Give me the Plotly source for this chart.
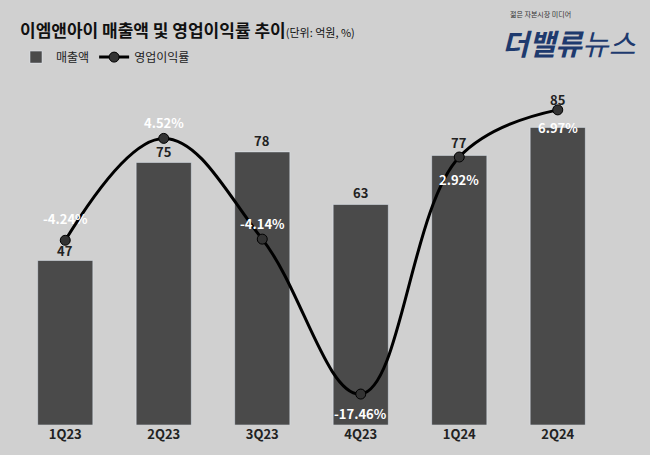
import plotly.graph_objects as go

categories = ["1Q23", "2Q23", "3Q23", "4Q23", "1Q24", "2Q24"]
sales = [47, 75, 78, 63, 77, 85]
margin = [-4.24, 4.52, -4.14, -17.46, 2.92, 6.97]

# label offsets in pixels (style only)
sales_shift = [10, 11, 11, 12, 13, 28]
margin_shift = [22, 16, 16, -19, -22, -18]

W, H = 650, 455
pl, pr, pt, pb = 16, 43, 70, 27
pw, ph = W - pl - pr, H - pt - pb

def px(x):
    return (x - pl) / pw

def py(y):
    return 1 - (y - pt) / ph

fig = go.Figure()
fig.add_trace(go.Bar(x=categories, y=sales, name="매출액", marker_color="#4a4a4a", width=0.56))
fig.add_trace(go.Scatter(x=categories, y=margin, name="영업이익률", yaxis="y2",
                         mode="lines+markers", line=dict(color="black", width=3, shape="spline", smoothing=1.1),
                         marker=dict(size=10, color="#333", line=dict(color="black", width=1)),
                         cliponaxis=False))

anns = [
    dict(text="<b>이엠앤아이 매출액 및 영업이익률 추이</b><span style='font-size:11px'>(단위: 억원, %)</span>",
         x=px(18), y=py(29), xref="paper", yref="paper", showarrow=False, xanchor="left", yanchor="middle",
         font=dict(size=17, color="#111")),
    dict(text="젊은 자본시장 미디어", x=px(508), y=py(14), xref="paper", yref="paper", showarrow=False,
         xanchor="left", yanchor="middle", font=dict(size=7, color="#333")),
    dict(text="<b><i>더밸류</i></b><i>뉴스</i>", x=px(500), y=py(42), xref="paper", yref="paper",
         showarrow=False, xanchor="left", yanchor="middle", font=dict(size=29, color="#1e3a6e")),
]
for c, v, s in zip(categories, sales, sales_shift):
    anns.append(dict(text=f"<b>{v}</b>", x=c, y=v, xref="x", yref="y", showarrow=False,
                     yanchor="middle", yshift=s, font=dict(size=13, color="#222")))
for c, v, s in zip(categories, margin, margin_shift):
    anns.append(dict(text=f"<b>{v:.2f}%</b>", x=c, y=v, xref="x", yref="y2", showarrow=False,
                     yanchor="middle", yshift=s, font=dict(size=13, color="white")))

fig.update_layout(
    width=W, height=H, paper_bgcolor="#d0d0d0", plot_bgcolor="#d0d0d0",
    margin=dict(l=pl, r=pr, t=pt, b=pb), bargap=0.44,
    font=dict(family="Noto Sans CJK KR", color="#222"),
    xaxis=dict(showgrid=False, showline=False, tickfont=dict(size=13, color="#222"), ticks="",
               tickprefix="<b>", ticksuffix="</b>"),
    yaxis=dict(range=[0, 101.4], visible=False),
    yaxis2=dict(range=[-20.12, 10.4], overlaying="y", visible=False),
    showlegend=True,
    legend=dict(orientation="h", x=px(16), y=py(57), xanchor="left", yanchor="middle",
                font=dict(size=12), bgcolor="rgba(0,0,0,0)"),
    annotations=anns,
)
fig.write_html("out.html", config={"displayModeBar": False},
               post_script="document.body.style.margin='0';document.body.style.background='#d0d0d0';")
